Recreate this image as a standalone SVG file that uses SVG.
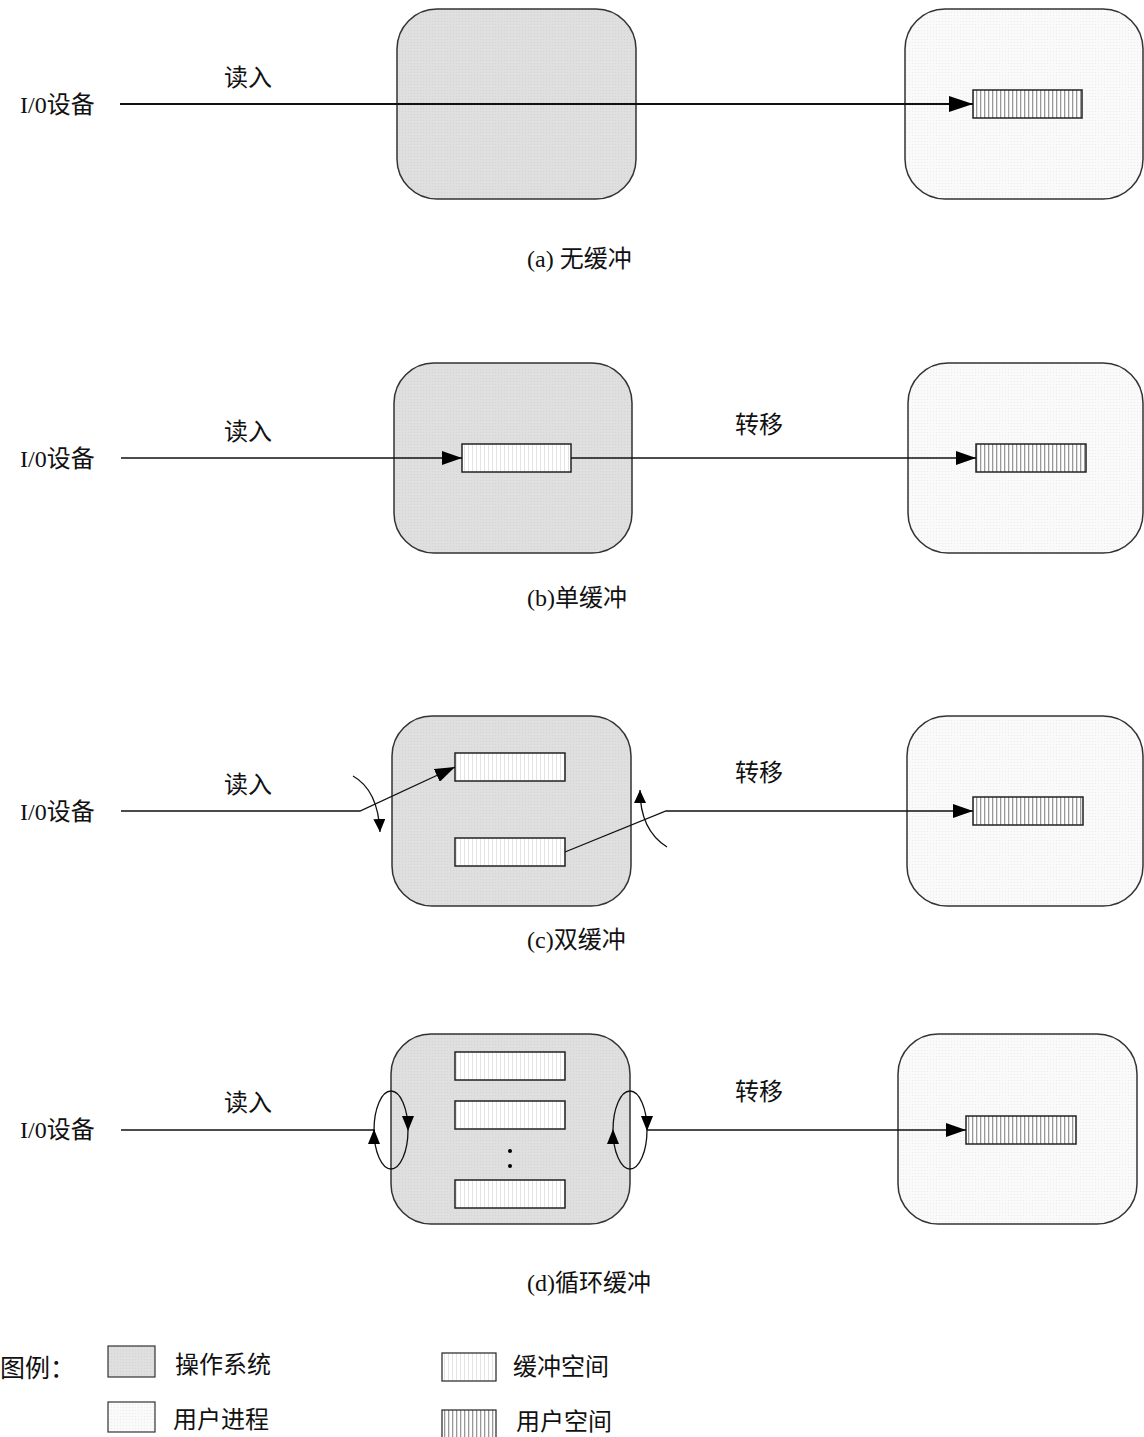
<svg xmlns="http://www.w3.org/2000/svg" width="1144" height="1437" viewBox="0 0 1144 1437">
<defs>
<pattern id="osPat" width="3" height="3" patternUnits="userSpaceOnUse">
<rect width="3" height="3" fill="#dfdfdf"/><rect width="1" height="1" fill="#d4d4d4"/>
</pattern>
<pattern id="upPat" width="3" height="3" patternUnits="userSpaceOnUse">
<rect width="3" height="3" fill="#fafafa"/><rect width="1" height="1" fill="#ececec"/>
</pattern>
<pattern id="bufPat" width="4" height="4" patternUnits="userSpaceOnUse">
<rect width="4" height="4" fill="#ffffff"/><rect width="1" height="4" fill="#e4e4e4"/>
</pattern>
<pattern id="usPat" width="4" height="4" patternUnits="userSpaceOnUse">
<rect width="4" height="4" fill="#ffffff"/><rect width="1.3" height="4" fill="#999999"/>
</pattern>
<marker id="ah" viewBox="0 0 20 14" refX="20" refY="7" markerWidth="20" markerHeight="14" markerUnits="userSpaceOnUse" orient="auto">
<path d="M0,0 L20,7 L0,14 Z" fill="#000"/>
</marker>
<marker id="ahBig" viewBox="0 0 24 16" refX="24" refY="8" markerWidth="24" markerHeight="16" markerUnits="userSpaceOnUse" orient="auto">
<path d="M0,0 L24,8 L0,16 Z" fill="#000"/>
</marker>
<marker id="ahS" viewBox="0 0 13 12" refX="13" refY="6" markerWidth="13" markerHeight="12" markerUnits="userSpaceOnUse" orient="auto">
<path d="M0,0 L13,6 L0,12 Z" fill="#000"/>
</marker>
</defs>
<style>
.t{font-family:"Liberation Serif","Noto Sans CJK SC",serif;font-size:24px;fill:#111}
.os{fill:url(#osPat);stroke:#333;stroke-width:1.5}
.up{fill:url(#upPat);stroke:#333;stroke-width:1.5}
.buf{fill:url(#bufPat);stroke:#222;stroke-width:1.5}
.us{fill:url(#usPat);stroke:#222;stroke-width:1.5}
.ln{fill:none;stroke:#111;stroke-width:1.3}
</style>

<!-- Panel a -->
<g id="a-os"><rect class="os" x="397" y="9" width="239" height="190" rx="40"/></g>
<g id="a-user"><rect class="up" x="905" y="9" width="238" height="190" rx="40"/></g>
<g id="a-ubuf"><rect class="us" x="973" y="90" width="109" height="28"/></g>
<g id="a-dev"><text class="t" x="20" y="113">I/0设备</text></g>
<text class="t" x="224" y="86">读入</text>
<text class="t" x="527" y="267">(a) 无缓冲</text>

<!-- Panel b -->
<g id="b-os"><rect class="os" x="394" y="363" width="238" height="190" rx="40"/></g>
<g id="b-user"><rect class="up" x="908" y="363" width="235" height="190" rx="40"/></g>
<g id="b-buf"><rect class="buf" x="462" y="444" width="109" height="28"/></g>
<g id="b-ubuf"><rect class="us" x="976" y="444" width="110" height="28"/></g>
<g id="b-dev"><text class="t" x="20" y="467">I/0设备</text></g>
<text class="t" x="224" y="440">读入</text>
<text class="t" x="735" y="433">转移</text>
<text class="t" x="527" y="606">(b)单缓冲</text>

<!-- Panel c -->
<g id="c-os"><rect class="os" x="392" y="716" width="239" height="190" rx="40"/></g>
<g id="c-user"><rect class="up" x="907" y="716" width="236" height="190" rx="40"/></g>
<g id="c-buf1"><rect class="buf" x="455" y="753" width="110" height="28"/></g>
<g id="c-buf2"><rect class="buf" x="455" y="838" width="110" height="28"/></g>
<g id="c-ubuf"><rect class="us" x="973" y="797" width="110" height="28"/></g>
<g id="c-dev"><text class="t" x="20" y="820">I/0设备</text></g>
<text class="t" x="224" y="793">读入</text>
<text class="t" x="735" y="781">转移</text>
<text class="t" x="527" y="948">(c)双缓冲</text>

<!-- Panel d -->
<g id="d-os"><rect class="os" x="391" y="1034" width="239" height="190" rx="40"/></g>
<g id="d-user"><rect class="up" x="898" y="1034" width="239" height="190" rx="40"/></g>
<g id="d-buf1"><rect class="buf" x="455" y="1052" width="110" height="28"/></g>
<g id="d-buf2"><rect class="buf" x="455" y="1101" width="110" height="28"/></g>
<g id="d-buf3"><rect class="buf" x="455" y="1180" width="110" height="28"/></g>
<g id="d-ubuf"><rect class="us" x="966" y="1116" width="110" height="28"/></g>
<circle cx="510" cy="1151" r="2" fill="#000"/>
<circle cx="510" cy="1166" r="2" fill="#000"/>
<g id="d-dev"><text class="t" x="20" y="1138">I/0设备</text></g>
<text class="t" x="224" y="1111">读入</text>
<text class="t" x="735" y="1100">转移</text>
<text class="t" x="527" y="1291">(d)循环缓冲</text>

<!-- Legend -->
<g id="legend">
<text class="t" x="0" y="1377" style="font-size:25px">图例：</text>
<rect class="os" x="108" y="1346" width="47" height="31" style="stroke-width:1.2"/>
<text class="t" x="175" y="1373">操作系统</text>
<rect class="up" x="108" y="1402" width="47" height="30" style="stroke-width:1.2"/>
<text class="t" x="173" y="1428">用户进程</text>
<rect class="buf" x="442" y="1353" width="54" height="28" style="stroke-width:1.2"/>
<text class="t" x="513" y="1375">缓冲空间</text>
<rect class="us" x="442" y="1410" width="54" height="30" style="stroke-width:1.2"/>
<text class="t" x="516" y="1430">用户空间</text>
</g>

<!-- Connectors -->
<g id="connectors">
<line x1="120" y1="104" x2="973" y2="104" stroke="#111" stroke-width="2" marker-end="url(#ahBig)"/>
<line class="ln" x1="121" y1="458" x2="462" y2="458" marker-end="url(#ah)"/>
<line class="ln" x1="571" y1="458" x2="976" y2="458" marker-end="url(#ah)"/>
<polyline class="ln" points="121,811 360,811 455,767" marker-end="url(#ah)"/>
<path class="ln" d="M353,776 Q378,790 380,832" marker-end="url(#ahS)"/>
<polyline class="ln" points="565,852 666,811 973,811" marker-end="url(#ah)"/>
<path class="ln" d="M667,847 Q640,830 640,790" marker-end="url(#ahS)"/>
<line class="ln" x1="121" y1="1130" x2="375" y2="1130"/>
<ellipse class="ln" cx="391" cy="1130" rx="17" ry="39" fill="none"/>
<path d="M402,1116 L414,1116 L408,1131 Z" fill="#000"/>
<path d="M368,1144 L380,1144 L374,1129 Z" fill="#000"/>
<ellipse class="ln" cx="630" cy="1130" rx="17" ry="39" fill="none"/>
<path d="M641,1116 L653,1116 L647,1131 Z" fill="#000"/>
<path d="M607,1144 L619,1144 L613,1129 Z" fill="#000"/>
<line class="ln" x1="647" y1="1130" x2="966" y2="1130" marker-end="url(#ah)"/>
</g>
</svg>
